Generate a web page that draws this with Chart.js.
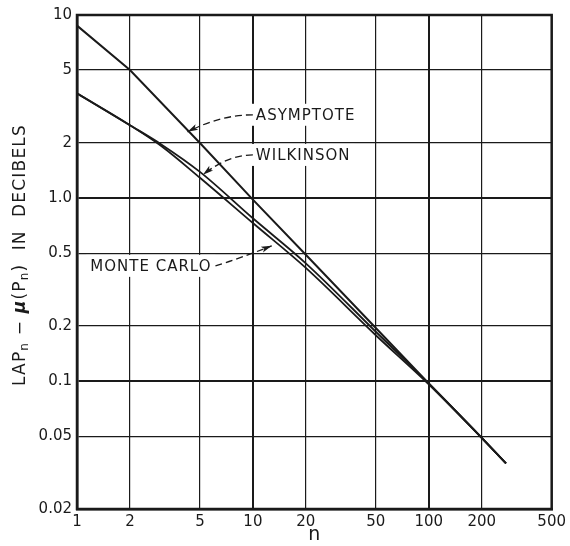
<!DOCTYPE html>
<html>
<head>
<meta charset="utf-8">
<script src="https://cdn.jsdelivr.net/npm/chart.js@4.4.1/dist/chart.umd.min.js"></script>
<style>
  html, body { margin: 0; padding: 0; background: #fff; }
  #wrap { width: 570px; height: 546px; }
</style>
</head>
<body>
<div id="wrap"><canvas id="myChart" width="570" height="546"></canvas></div>
<script>
// axes
const xTicks = [1, 2, 5, 10, 20, 50, 100, 200, 500];
const xTickLabels = ['1', '2', '5', '10', '20', '50', '100', '200', '500'];
const yTicks = [0.02, 0.05, 0.1, 0.2, 0.5, 1, 2, 5, 10];
const yTickLabels = ['0.02', '0.05', '0.1', '0.2', '0.5', '1.0', '2', '5', '10'];

// courbes
const nAsymptote = [1, 2, 5, 10, 20, 50, 100, 200, 275];
const asymptote = [8.75, 5.0, 2.0, 0.98, 0.49, 0.195, 0.097, 0.049, 0.0355];

const nCurves = [1, 2, 3, 5, 10, 20, 50, 100, 200, 275];
const wilkinson = [3.73, 2.5, 1.97, 1.39, 0.775, 0.44, 0.186, 0.097, 0.049, 0.0355];
const monteCarlo = [3.73, 2.5, 1.93, 1.29, 0.73, 0.415, 0.178, 0.096, 0.049, 0.0355];

const ink = '#1a1a1a';
const font = 'DejaVu Sans';

const toPoints = (xs, ys) => xs.map((x, i) => ({ x: x, y: ys[i] }));

// étiquettes avec flèches en tirets
const labels = [
    { text: 'ASYMPTOTE', at: [10.4, 2.85], align: 'left', tip: [4.25, 2.3], ctrl: [-32, 0] },
    { text: 'WILKINSON', at: [10.4, 1.72], align: 'left', tip: [5.2, 1.34], ctrl: [-25, 0] },
    { text: 'MONTE CARLO', at: [1.19, 0.426], align: 'left', tip: [12.8, 0.548], ctrl: [23, -7] }
];

const labelPlugin = {
    id: 'labels',
    beforeDatasetsDraw(chart) {
        const ctx = chart.ctx;
        const xs = chart.scales.x, ys = chart.scales.y;
        ctx.save();
        ctx.font = '15px "' + font + '"';
        ctx.letterSpacing = '1px';
        ctx.textBaseline = 'middle';
        labels.forEach(l => {
            const px = xs.getPixelForValue(l.at[0]);
            const py = ys.getPixelForValue(l.at[1]);
            const w = ctx.measureText(l.text).width;
            const left = l.align === 'left' ? px : px - w;
            // fond blanc qui coupe la grille
            ctx.fillStyle = '#fff';
            ctx.fillRect(left - 4, py - 11, w + 8, 22);
            ctx.fillStyle = ink;
            ctx.textAlign = 'left';
            ctx.fillText(l.text, left, py + 1);

            const sx = l.align === 'left' && l.ctrl[0] < 0 ? left - 3 : left + w + 4;
            const tx = xs.getPixelForValue(l.tip[0]);
            const ty = ys.getPixelForValue(l.tip[1]);
            const cx = sx + l.ctrl[0];
            const cy = py + l.ctrl[1];
            ctx.strokeStyle = ink;
            ctx.lineWidth = 1.3;
            ctx.setLineDash([7, 4]);
            ctx.beginPath();
            ctx.moveTo(sx, py);
            ctx.quadraticCurveTo(cx, cy, tx, ty);
            ctx.stroke();
            ctx.setLineDash([]);
            // pointe de flèche
            const a = Math.atan2(ty - cy, tx - cx);
            ctx.beginPath();
            ctx.moveTo(tx, ty);
            ctx.lineTo(tx - 11 * Math.cos(a - 0.28), ty - 11 * Math.sin(a - 0.28));
            ctx.lineTo(tx - 8 * Math.cos(a), ty - 8 * Math.sin(a));
            ctx.lineTo(tx - 11 * Math.cos(a + 0.28), ty - 11 * Math.sin(a + 0.28));
            ctx.closePath();
            ctx.fillStyle = ink;
            ctx.fill();
        });
        ctx.restore();
    }
};

// titre vertical avec indices
const yTitlePlugin = {
    id: 'yTitle',
    afterDraw(chart) {
        const ctx = chart.ctx;
        const a = chart.chartArea;
        const parts = [['LAP', 0], ['n', 1], [' − ', 0], ['μ', 2], ['(P', 0], ['n', 1], [')  IN  DECIBELS', 0]];
        const big = '17px "' + font + '"';
        const small = '12px "' + font + '"';
        const bold = 'bold italic 17px "' + font + '"';
        ctx.save();
        ctx.letterSpacing = '1.2px';
        const fontOf = k => k === 1 ? small : (k === 2 ? bold : big);
        let total = 0;
        parts.forEach(p => { ctx.font = fontOf(p[1]); total += ctx.measureText(p[0]).width; });
        ctx.translate(21, (a.top + a.bottom) / 2 - 7);
        ctx.rotate(-Math.PI / 2);
        ctx.fillStyle = ink;
        ctx.textBaseline = 'middle';
        let x = -total / 2;
        parts.forEach(p => {
            ctx.font = fontOf(p[1]);
            ctx.fillText(p[0], x, p[1] === 1 ? 4 : 0);
            x += ctx.measureText(p[0]).width;
        });
        ctx.restore();
    }
};

const majorX = [1, 10, 100];
const majorY = [0.1, 1, 10];

const config = {
    type: 'line',
    data: {
        datasets: [{
            label: 'Asymptote',
            data: toPoints(nAsymptote, asymptote),
            borderColor: ink,
            borderWidth: 2,
            pointRadius: 0,
            tension: 0
        }, {
            label: 'Wilkinson',
            data: toPoints(nCurves, wilkinson),
            borderColor: ink,
            borderWidth: 1.8,
            pointRadius: 0,
            cubicInterpolationMode: 'monotone'
        }, {
            label: 'Monte Carlo',
            data: toPoints(nCurves, monteCarlo),
            borderColor: ink,
            borderWidth: 1.8,
            pointRadius: 0,
            cubicInterpolationMode: 'monotone'
        }]
    },
    options: {
        responsive: false,
        animation: false,
        layout: { padding: { top: 15, right: 17, left: 0, bottom: 0 } },
        scales: {
            x: {
                type: 'logarithmic',
                min: 1,
                max: 500,
                afterBuildTicks: s => { s.ticks = xTicks.map(v => ({ value: v })); },
                afterFit: s => { s.height = 37; },
                grid: {
                    color: ink,
                    drawTicks: false,
                    lineWidth: c => (c.tick && majorX.includes(c.tick.value)) ? 2 : 1.2
                },
                border: { display: true, color: ink, width: 2.5 },
                ticks: {
                    color: ink,
                    padding: 4,
                    maxRotation: 0,
                    autoSkip: false,
                    font: { family: font, size: 15 },
                    callback: (v, i) => xTickLabels[i]
                },
                title: {
                    display: true,
                    text: 'n',
                    color: ink,
                    padding: 0,
                    font: { family: font, size: 19 }
                }
            },
            y: {
                type: 'logarithmic',
                min: 0.02,
                max: 10,
                afterBuildTicks: s => { s.ticks = yTicks.map(v => ({ value: v })); },
                afterFit: s => { s.width = 77; },
                grid: {
                    color: ink,
                    drawTicks: false,
                    lineWidth: c => (c.tick && majorY.includes(c.tick.value)) ? 2 : 1.2
                },
                border: { display: true, color: ink, width: 2.5 },
                ticks: {
                    color: ink,
                    padding: 5,
                    autoSkip: false,
                    font: { family: font, size: 15 },
                    callback: (v, i) => yTickLabels[i]
                }
            }
        },
        plugins: {
            legend: { display: false },
            tooltip: { enabled: false }
        }
    },
    plugins: [labelPlugin, yTitlePlugin, {
        id: 'frame',
        afterDraw(chart) {
            const a = chart.chartArea, ctx = chart.ctx;
            ctx.save();
            ctx.strokeStyle = ink;
            ctx.lineWidth = 2.5;
            ctx.strokeRect(a.left, a.top, a.right - a.left, a.bottom - a.top);
            ctx.restore();
        }
    }]
};

let myChart = new Chart(document.getElementById('myChart'), config);
</script>
</body>
</html>
